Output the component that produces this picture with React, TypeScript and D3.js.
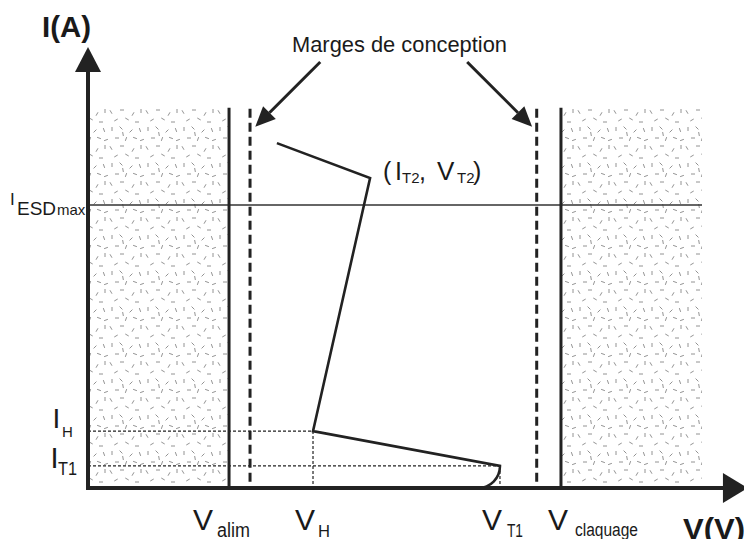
import React from 'react';
import * as d3 from 'd3';

const W = 744;
const H = 539;

// Axis domains (arbitrary units, schematic)
const V_DOMAIN = [0, 10];
const I_DOMAIN = [0, 10];

// Key voltages
const V_ALIM = 2.15;
const V_MARGIN_LOW = 2.47;
const V_H = 3.43;
const V_T2 = 4.3;
const V_T1 = 6.28;
const V_MARGIN_HIGH = 6.84;
const V_CLAQUAGE = 7.21;
const V_ZONE_END = 9.36;

// Key currents
const I_T1 = 0.5;
const I_H = 1.29;
const I_ESD_MAX = 6.42;
const I_T2 = 7.03;
const I_ZONE_TOP = 8.62;

// Snapback I-V curve (V, I)
const curveV = [2.88, V_T2, V_H, V_T1];
const curveI = [7.82, I_T2, I_H, I_T1];
const ARC_END_V = 5.95;

// "Marges de conception" arrows: [fromV, fromI, toV, toI]
const marginArrows = [
  [3.54, 9.66, 2.55, 8.19],
  [5.78, 9.66, 6.77, 8.19],
];

// Bottom labels
const xLabelMain = ['V', 'V', 'V', 'V'];
const xLabelSub = ['alim', 'H', 'T1', 'claquage'];
const xLabelValue = [V_ALIM, V_H, V_T1, V_CLAQUAGE];

// Stipple texture tile: [cx, cy, angleDeg]
const stippleTile = [
  [3, 4, 60], [14, 2, 0], [25, 6, 120], [33, 3, 90],
  [8, 12, 150], [19, 11, 30], [29, 14, 0], [4, 21, 90],
  [13, 20, 45], [23, 23, 135], [32, 22, 70], [9, 30, 0],
  [18, 31, 110], [27, 30, 20], [34, 32, 160], [15, 26, 80],
];

const FONT = '"Liberation Sans", Arial, sans-serif';
const INK = '#222';

export default function App() {
  const x = d3.scaleLinear().domain(V_DOMAIN).range([88, 744]);
  const y = d3.scaleLinear().domain(I_DOMAIN).range([488, 47]);

  const x0 = x(0);
  const y0 = y(0);

  const line = d3.line<number>()
    .x((_, i) => x(curveV[i]))
    .y((_, i) => y(curveI[i]));
  const pts = curveV.map((_, i) => i);
  let curvePath = line(pts) || '';
  const rx = x(V_T1) - x(ARC_END_V);
  const ry = y(0) - y(I_T1);
  curvePath += ` A ${rx} ${ry} 0 0 1 ${x(ARC_END_V)} ${y(0)}`;

  const zoneTop = y(I_ZONE_TOP);

  const arrowHead = (tx: number, ty: number, fx: number, fy: number, len: number, half: number) => {
    const dx = tx - fx, dy = ty - fy;
    const L = Math.hypot(dx, dy);
    const ux = dx / L, uy = dy / L;
    const bx = tx - ux * len, by = ty - uy * len;
    const px = -uy, py = ux;
    return {
      base: [bx, by],
      d: `M${tx},${ty} L${bx + px * half},${by + py * half} L${bx - px * half},${by - py * half} Z`,
    };
  };

  // label layout relative to the line position
  const labelOffsets = [-36, -18, -18, -13];
  const subGap = [24, 23, 25, 27];
  const subSize = [20, 17, 18, 18];
  const subLen = [33, 12, 16, 63];
  const subBase = [537, 537, 537, 536];

  return (
    <svg width={W} height={H} style={{ position: 'absolute', left: 0, top: 0, background: '#fff' }}>
      <defs>
        <pattern id="stipple" width={36} height={36} patternUnits="userSpaceOnUse">
          {stippleTile.map(([cx, cy, a], i) => {
            const r = (a * Math.PI) / 180;
            const h = 2;
            return (
              <line key={i} x1={cx - Math.cos(r) * h} y1={cy - Math.sin(r) * h}
                x2={cx + Math.cos(r) * h} y2={cy + Math.sin(r) * h}
                stroke="#858585" strokeWidth={0.9} />
            );
          })}
        </pattern>
      </defs>

      {/* stippled forbidden zones */}
      <rect x={x0} y={zoneTop} width={x(V_ALIM) - x0} height={y0 - zoneTop} fill="url(#stipple)" />
      <rect x={x(V_CLAQUAGE)} y={zoneTop} width={x(V_ZONE_END) - x(V_CLAQUAGE)} height={y0 - zoneTop} fill="url(#stipple)" />

      {/* I_ESDmax line */}
      <line x1={x0} x2={x(V_ZONE_END)} y1={y(I_ESD_MAX)} y2={y(I_ESD_MAX)} stroke="#333" strokeWidth={1.5} />

      {/* dotted guides */}
      <g stroke={INK} strokeWidth={1.2} strokeDasharray="3 2">
        <line x1={x0} x2={x(V_H)} y1={y(I_H)} y2={y(I_H)} />
        <line x1={x0} x2={x(V_T1)} y1={y(I_T1)} y2={y(I_T1)} />
        <line x1={x(V_H)} x2={x(V_H)} y1={y(I_H)} y2={y0} />
        <line x1={x(V_T1)} x2={x(V_T1)} y1={y(I_T1)} y2={y0} />
      </g>

      {/* Valim / Vclaquage */}
      <line x1={x(V_ALIM)} x2={x(V_ALIM)} y1={zoneTop} y2={y0} stroke={INK} strokeWidth={3} />
      <line x1={x(V_CLAQUAGE)} x2={x(V_CLAQUAGE)} y1={zoneTop} y2={y0} stroke={INK} strokeWidth={3} />

      {/* design margins */}
      <line x1={x(V_MARGIN_LOW)} x2={x(V_MARGIN_LOW)} y1={zoneTop + 1} y2={y0} stroke={INK} strokeWidth={3} strokeDasharray="9 5" />
      <line x1={x(V_MARGIN_HIGH)} x2={x(V_MARGIN_HIGH)} y1={zoneTop + 1} y2={y0} stroke={INK} strokeWidth={3} strokeDasharray="9 5" />

      {/* curve */}
      <path d={curvePath} fill="none" stroke={INK} strokeWidth={2.6} strokeLinejoin="miter" />

      {/* axes */}
      <line x1={x0} x2={x0} y1={y0 + 2} y2={y(9.5)} stroke={INK} strokeWidth={4} />
      <line x1={x0 - 2} x2={x(9.7)} y1={y0} y2={y0} stroke={INK} strokeWidth={4} />
      <path d={arrowHead(x0, y(10), x0, y0, 25, 13).d} fill={INK} />
      <path d={arrowHead(x(10.06), y0, x0, y0, 25, 15).d} fill={INK} />

      {/* margin arrows */}
      {marginArrows.map(([fv, fi, tv, ti], i) => {
        const fx = x(fv), fy = y(fi), tx = x(tv), ty = y(ti);
        const ah = arrowHead(tx, ty, fx, fy, 20, 9);
        return (
          <g key={i}>
            <line x1={fx} y1={fy} x2={ah.base[0]} y2={ah.base[1]} stroke={INK} strokeWidth={3} />
            <path d={ah.d} fill={INK} />
          </g>
        );
      })}

      <g fill="#1a1a1a" fontFamily={FONT}>
        {/* axis titles */}
        <text x={42} y={37} fontSize={30} fontWeight="bold" textLength={49} lengthAdjust="spacingAndGlyphs">I(A)</text>
        <text x={683} y={539} fontSize={30} fontWeight="bold" textLength={62} lengthAdjust="spacingAndGlyphs">V(V)</text>

        <text x={292} y={52} fontSize={22} textLength={215} lengthAdjust="spacingAndGlyphs">Marges de conception</text>

        {/* I_ESDmax */}
        <text x={10} y={y(I_ESD_MAX)} fontSize={17}>I</text>
        <text x={17} y={y(I_ESD_MAX) + 10} fontSize={19}>ESD</text>
        <text x={57} y={y(I_ESD_MAX) + 10} fontSize={15}>max</text>

        {/* I_H */}
        <text x={52.5} y={y(I_H) - 3} fontSize={28}>I</text>
        <text x={62} y={y(I_H) + 6} fontSize={15}>H</text>

        {/* I_T1 */}
        <text x={50.5} y={y(I_T1) + 2} fontSize={29}>I</text>
        <text x={58} y={y(I_T1) + 9} fontSize={18} textLength={19} lengthAdjust="spacingAndGlyphs">T1</text>

        {/* (I_T2, V_T2) */}
        <text x={x(V_T2) + 13} y={y(I_T2) + 2} fontSize={25}>(</text>
        <text x={x(V_T2) + 25} y={y(I_T2) + 2} fontSize={25}>I</text>
        <text x={x(V_T2) + 32} y={y(I_T2) + 5} fontSize={15}>T2</text>
        <text x={x(V_T2) + 49} y={y(I_T2) + 2} fontSize={25}>,</text>
        <text x={x(V_T2) + 67} y={y(I_T2) + 2} fontSize={26}>V</text>
        <text x={x(V_T2) + 87} y={y(I_T2) + 5} fontSize={15}>T2</text>
        <text x={x(V_T2) + 103} y={y(I_T2) + 2} fontSize={25}>)</text>

        {/* bottom labels */}
        {xLabelMain.map((m, i) => {
          const lx = x(xLabelValue[i]) + labelOffsets[i];
          return (
            <g key={i}>
              <text x={lx} y={530} fontSize={30}>{m}</text>
              <text x={lx + subGap[i]} y={subBase[i]} fontSize={subSize[i]} textLength={subLen[i]} lengthAdjust="spacingAndGlyphs">{xLabelSub[i]}</text>
            </g>
          );
        })}
      </g>
    </svg>
  );
}
